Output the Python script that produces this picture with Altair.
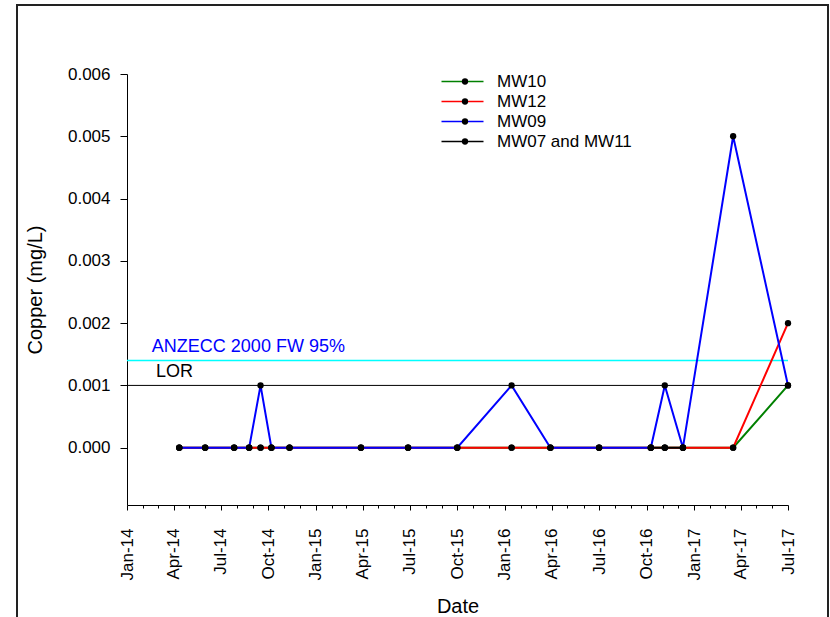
import altair as alt
import pandas as pd

FONT = "Arial, Liberation Sans, sans-serif"

# ---- data ----
dates = ["2014-04-12", "2014-06-01", "2014-07-27", "2014-08-25", "2014-09-16",
         "2014-10-07", "2014-11-11", "2015-03-29", "2015-06-28", "2015-10-01",
         "2016-01-14", "2016-03-29", "2016-07-01", "2016-10-09", "2016-11-05",
         "2016-12-10", "2017-03-17", "2017-07-01"]
mw10 = [0, 0, 0, 0, 0, 0, 0, 0, 0, 0, 0, 0, 0, 0, 0, 0, 0, 0.001]
mw12 = [0, 0, 0, 0, 0, 0, 0, 0, 0, 0, 0, 0, 0, 0, 0, 0, 0, 0.002]
mw09 = [0, 0, 0, 0, 0.001, 0, 0, 0, 0, 0, 0.001, 0, 0, 0, 0.001, 0, 0.005, 0.001]
mw0711_dates = ["2016-10-09", "2016-11-05", "2016-12-10"]
mw0711 = [0, 0, 0]

series_names = ["MW10", "MW12", "MW09", "MW07 and MW11"]
series_colors = ["#008000", "#ff0000", "#0000ff", "#000000"]
marker_keys = ["MW10 marker", "MW12 marker", "MW09 marker", "MW07 and MW11 marker"]
marker_colors = ["#000000", "#000000", "#000000", "#000000"]

ref_names = ["ANZECC 2000 FW 95%", "LOR"]
ref_values = [0.0014, 0.001]
ref_colors = ["#00ffff", "#000000"]
ref_text_colors = ["#0000ff", "#000000"]
ref_text_dates = ["2014-02-18", "2014-02-26"]
ref_text_values = [0.00153, 0.00113]

y_ticks = [0, 0.001, 0.002, 0.003, 0.004, 0.005, 0.006]

# ---- tables ----
rows = []
for name, vals in [("MW10", mw10), ("MW12", mw12), ("MW09", mw09)]:
    for d, v in zip(dates, vals):
        rows.append({"date": d + "T00:00:00", "value": v, "series": name})
for d, v in zip(mw0711_dates, mw0711):
    rows.append({"date": d + "T00:00:00", "value": v, "series": "MW07 and MW11"})
df = pd.DataFrame(rows)

ref_df = pd.DataFrame({"name": ref_names, "value": ref_values})
ann_df = pd.DataFrame({"name": ref_names,
                       "date": [d + "T00:00:00" for d in ref_text_dates],
                       "value": ref_text_values})

month_vals = []
for yr in [2014, 2015, 2016, 2017]:
    for m in range(1, 13):
        if yr == 2017 and m > 7:
            break
        month_vals.append(alt.DateTime(year=yr, month=m, date=1))

x_scale = alt.Scale(domain=[alt.DateTime(year=2014, month=1, date=1),
                            alt.DateTime(year=2017, month=7, date=1)], nice=False)
y_scale = alt.Scale(domain=[-0.00092, 0.006], nice=False, zero=False)

x_axis = alt.Axis(values=month_vals, title="Date",
                  labelExpr="month(datum.value) % 3 == 0 ? timeFormat(datum.value, '%b-%y') : ''",
                  labelAngle=270, labelFontSize=17, labelFont=FONT, labelColor="black",
                  labelPadding=18, labelOverlap=False,
                  tickSize={"condition": {"test": "month(datum.value) % 3 == 0", "value": 5}, "value": 3},
                  tickColor="black", domainColor="black", grid=False,
                  titleFontSize=20, titleFont=FONT, titleFontWeight="normal",
                  titleColor="black", titlePadding=17)
y_axis = alt.Axis(values=y_ticks, format=".3f", title="Copper (mg/L)",
                  labelFontSize=17, labelFont=FONT, labelColor="black",
                  tickSize=7, labelPadding=10, tickColor="black", domainColor="black",
                  grid=False, titleFontSize=20, titleFont=FONT, titleFontWeight="normal",
                  titleColor="black", titlePadding=22)

X = alt.X("date:T", scale=x_scale, axis=x_axis)
Y = alt.Y("value:Q", scale=y_scale, axis=y_axis)

# legend of the lines (coloured line segment)
line_legend = alt.Legend(title=None, orient="none", legendX=327, legendY=-1,
                         symbolType="M-4.2,0L4.2,0", symbolSize=100, symbolStrokeWidth=1.5,
                         symbolOffset=0, labelOffset=26, labelFontSize=17, labelFont=FONT,
                         labelColor="black", rowPadding=2, padding=0, labelLimit=400, zindex=0)
# legend of the markers (black dot over the middle of the segment, no labels)
dot_legend = alt.Legend(title=None, orient="none", legendX=327, legendY=-1,
                        symbolType="circle", symbolSize=40, symbolStrokeWidth=0,
                        symbolOffset=2.5, labelOffset=26, labelFontSize=17, labelFont=FONT,
                        labelExpr="''", rowPadding=2, padding=0, zindex=1)

stroke = alt.Stroke("series:N", scale=alt.Scale(domain=series_names, range=series_colors),
                    legend=line_legend)
fill = alt.Fill("marker:N", scale=alt.Scale(domain=marker_keys, range=marker_colors),
                legend=dot_legend)

base = alt.Chart(df)

frame = alt.Chart(pd.DataFrame({"k": [0]})).mark_rect(
    fill="transparent", stroke="#222222", strokeWidth=2).encode(
    x=alt.value(-110), x2=alt.value(701), y=alt.value(-69), y2=alt.value(560))

rule_cyan = alt.Chart(ref_df).transform_filter(
    alt.datum.name == ref_names[0]).mark_rule(color=ref_colors[0], strokeWidth=1.5).encode(
    y=alt.Y("value:Q", scale=y_scale, axis=y_axis))
rule_lor = alt.Chart(ref_df).transform_filter(
    alt.datum.name == ref_names[1]).mark_rule(color=ref_colors[1], strokeWidth=1).encode(
    y=alt.Y("value:Q", scale=y_scale, axis=y_axis))

txt_anz = alt.Chart(ann_df).transform_filter(alt.datum.name == ref_names[0]).mark_text(
    align="left", baseline="alphabetic", fontSize=18, font=FONT, color=ref_text_colors[0]).encode(
    x=X, y=Y, text="name:N")
txt_lor = alt.Chart(ann_df).transform_filter(alt.datum.name == ref_names[1]).mark_text(
    align="left", baseline="alphabetic", fontSize=18, font=FONT, color=ref_text_colors[1]).encode(
    x=X, y=Y, text="name:N")

def line_for(name):
    return base.transform_filter(alt.datum.series == name).mark_line(strokeWidth=2).encode(
        x=X, y=Y, stroke=stroke)

lines = [line_for("MW10"), line_for("MW12"), line_for("MW07 and MW11"), line_for("MW09")]

points = base.transform_calculate(marker="datum.series + ' marker'").mark_point(
    filled=True, size=40, opacity=1, strokeWidth=0).encode(x=X, y=Y, fill=fill)

chart = alt.layer(frame, rule_cyan, rule_lor, txt_anz, txt_lor, *lines, points).properties(
    width=661, height=431,
    autosize=alt.AutoSizeParams(type="none"),
    padding={"left": 127, "top": 74, "right": 42, "bottom": 112},
    background="white",
).configure_view(stroke=None)

chart.save("out.html", embed_options={"renderer": "svg", "actions": False})
